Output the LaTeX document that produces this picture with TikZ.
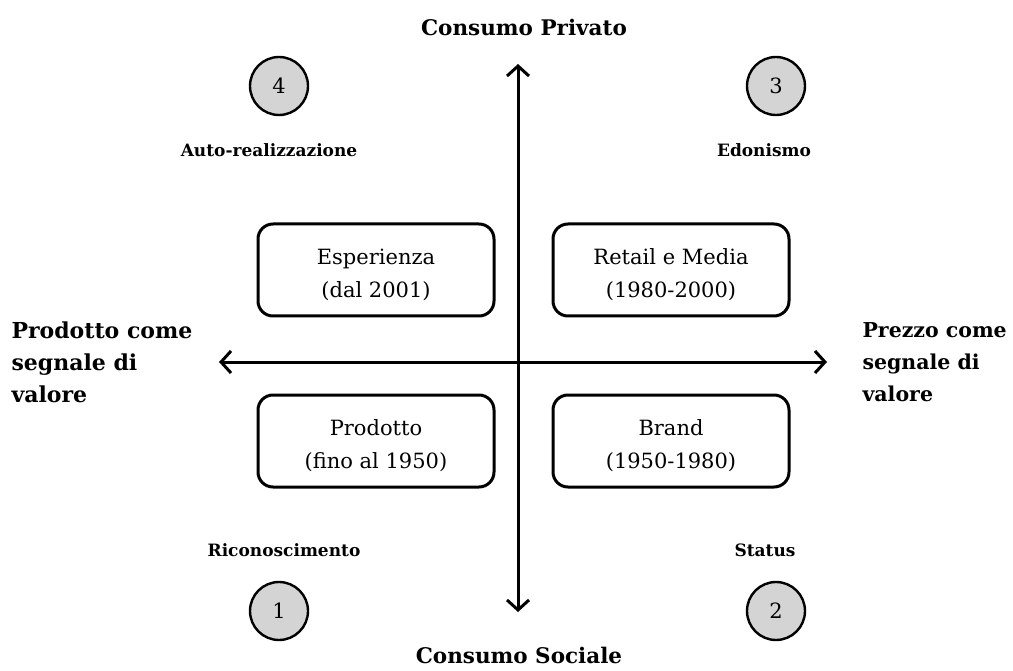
\documentclass[tikz,border=0pt]{standalone}
\usepackage{fontspec}
\setmainfont{DejaVu Serif}
\usetikzlibrary{arrows.meta}
\begin{document}
\begin{tikzpicture}[x=1pt,y=-1pt,
  barb/.tip={Straight Barb[length=10pt,width=22pt]},
  axis/.style={line width=3pt,barb-barb},
  era/.style={draw,line width=3pt,rounded corners=15pt,minimum width=236pt,minimum height=92pt,inner sep=0pt},
  eratext/.style={align=center,font=\fontsize{21}{33}\selectfont,inner sep=0pt},
  phase/.style={circle,draw,line width=2.4pt,fill=black!17,minimum size=58pt,inner sep=0pt,font=\fontsize{21}{22}\selectfont},
  tag/.style={font=\bfseries\fontsize{17}{18}\selectfont},
  pole/.style={font=\bfseries\fontsize{21.5}{22}\selectfont},
  side/.style={font=\bfseries\fontsize{22}{32}\selectfont,align=left,anchor=west}]
\useasboundingbox (0,0) rectangle (1013,671);

% axes
\coordinate (top) at (518,64);
\coordinate (bot) at (518,612);
\coordinate (lft) at (219,362);
\coordinate (rgt) at (827,362);
\draw[axis] (bot) -- (top);
\draw[axis] (lft) -- (rgt);

% axis poles
\node[pole] (priv) at (524,27) {Consumo Privato};
\node[pole] (soc) at (519,655) {Consumo Sociale};
\node[side] (prod) at (8,362) {Prodotto come\\segnale di\\valore};
\node[side,font=\bfseries\fontsize{20.5}{32}\selectfont] (prez) at (859,362) {Prezzo come\\segnale di\\valore};

% eras
\node[era] (esp) at (376,270) {};
\node[era] (ret) at (671,270) {};
\node[era] (pro) at (376,441) {};
\node[era] (bra) at (671,441) {};
\node[eratext] (espt) at (376,275) {Esperienza\\(dal 2001)};
\node[eratext] (rett) at (671,275) {Retail e Media\\(1980-2000)};
\node[eratext] (prot) at (376,446) {Prodotto\\(fino al 1950)};
\node[eratext] (brat) at (671,446) {Brand\\(1950-1980)};

% numbered phases
\node[phase] (c4) at (279,86) {4};
\node[phase] (c3) at (776,86) {3};
\node[phase] (c1) at (279,611) {1};
\node[phase] (c2) at (776,611) {2};

\node[tag] (t4) at (269,150) {Auto-realizzazione};
\node[tag] (t3) at (764,150) {Edonismo};
\node[tag] (t1) at (284,550) {Riconoscimento};
\node[tag] (t2) at (765,550) {Status};
\end{tikzpicture}
\end{document}
